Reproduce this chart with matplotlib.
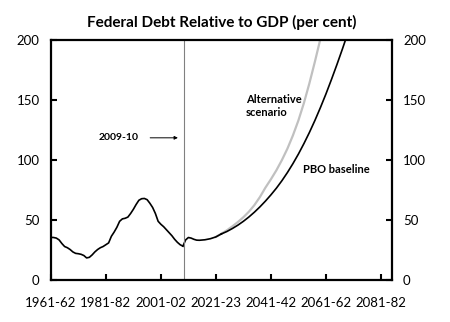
import matplotlib
matplotlib.use("Agg")
import matplotlib.pyplot as plt

plt.rcParams['font.family'] = ['Lato', 'DejaVu Sans']

# historical debt-to-GDP (per cent), fiscal year start
hist_years = list(range(1961, 2010))
hist_debt = [35.6, 35.5, 35.0, 33.5, 30.5, 28.0, 27.0, 25.5, 23.5, 22.3,
             22.0, 21.5, 20.5, 18.5, 19.0, 21.0, 23.5, 25.5, 27.0, 28.0,
             29.5, 31.0, 36.5, 40.0, 44.0, 49.0, 51.0, 51.5, 52.5, 55.5,
             59.0, 63.0, 66.5, 67.8, 68.0, 67.0, 64.0, 60.5, 55.5, 49.0,
             46.5, 44.5, 42.0, 39.5, 37.0, 34.0, 31.5, 29.5, 28.3]

# common projection path before the two scenarios split
common_years = [2009, 2010, 2011, 2012, 2013, 2014, 2015, 2017, 2019, 2021, 2023]
common_debt = [28.3, 33.5, 35.5, 35.0, 34.0, 33.3, 33.2, 33.6, 34.5, 36.0, 38.5]

base_years = [2023, 2025, 2027, 2029, 2031, 2033, 2035, 2037, 2039, 2041,
              2043, 2045, 2047, 2049, 2051, 2053, 2055, 2057, 2059, 2061,
              2063, 2065, 2067, 2069]
base_debt = [38.5, 40.5, 43.0, 45.8, 49.0, 52.6, 56.6, 61.0, 65.8, 71.0,
             76.6, 82.8, 89.6, 97.0, 105.0, 113.7, 123.0, 133.0, 143.7, 155.0,
             167.0, 179.5, 192.5, 206.0]

alt_years = [2021, 2023, 2025, 2027, 2029, 2031, 2033, 2035, 2037, 2039, 2041,
             2043, 2045, 2047, 2049, 2051, 2053, 2055, 2057, 2059]
alt_debt = [36.0, 38.7, 41.5, 44.8, 48.4, 52.4, 57.0, 62.5, 69.2, 77.0, 84.0,
            91.5, 100.0, 109.5, 120.5, 133.0, 147.5, 164.0, 182.0, 201.0]

tick_years = [1961, 1981, 2001, 2021, 2041, 2061, 2081]
tick_labels = ["1961-62", "1981-82", "2001-02", "2021-23", "2041-42", "2061-62", "2081-82"]
split_year = 2009.3

fig = plt.figure(figsize=(4.5, 3.22), dpi=100)
ax = fig.add_axes([0.113, 0.130, 0.758, 0.746])

ax.plot(alt_years, alt_debt, color="#c0c0c0", lw=1.6)
ax.plot(base_years, base_debt, color="black", lw=1.2)
ax.plot(common_years, common_debt, color="black", lw=1.2)
ax.plot(hist_years, hist_debt, color="black", lw=1.2)
ax.axvline(split_year, color="#808080", lw=0.8)

ax.set_xlim(1961, 2085)
ax.set_ylim(0, 200)
ax.set_xticks(tick_years)
ax.set_xticklabels(tick_labels)
ax.set_yticks([0, 50, 100, 150, 200])

for s in ax.spines.values():
    s.set_linewidth(1.6)
ax.tick_params(axis="both", direction="in", length=4, width=1.5, labelsize=9.5)
ax.tick_params(axis="x", pad=12)
ax.tick_params(axis="y", pad=8, right=True, labelright=True)

ax.set_title("Federal Debt Relative to GDP (per cent)", fontsize=11,
             fontweight="bold", pad=9)

ax.text(2032.0, 145, "Alternative\nscenario", fontsize=8, fontweight="bold",
        va="center", ha="left", linespacing=1.3)
ax.text(2052.5, 92, "PBO baseline", fontsize=8, fontweight="bold",
        va="center", ha="left")
ax.annotate("", xy=(2008.2, 118.5), xytext=(1996.1, 118.5),
            arrowprops=dict(arrowstyle="-|>", color="black", lw=0.7,
                            mutation_scale=5))
ax.text(1993.0, 118.5, "2009-10", fontsize=7.5, fontweight="bold",
        va="center", ha="right")

fig.savefig("out.png", dpi=100)
